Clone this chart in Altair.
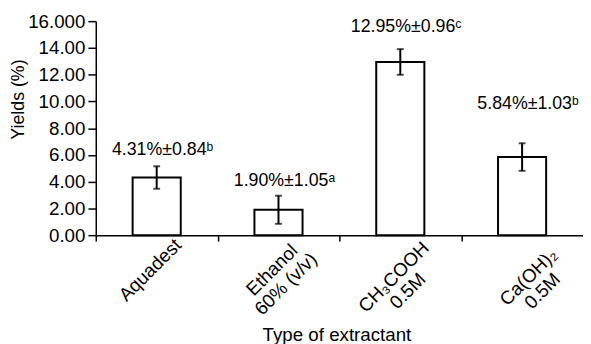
import altair as alt
import pandas as pd

# ---- data ----
categories = ["Aquadest", "Ethanol|60% (v/v)", "CH₃COOH|0.5M", "Ca(OH)₂|0.5M"]
yields = [4.31, 1.90, 12.95, 5.84]
errors = [0.84, 1.05, 0.96, 1.03]
letters = ["ᵇ", "ᵃ", "ᶜ", "ᵇ"]
y_ticks = [0, 2, 4, 6, 8, 10, 12, 14, 16]
y_tick_labels = ["0.00", "2.00", "4.00", "6.00", "8.00", "10.00", "12.00", "14.00", "16.000"]

df = pd.DataFrame({"label": categories, "yield": yields, "err": errors, "letter": letters})
df["lo"] = df["yield"] - df["err"]
df["hi"] = df["yield"] + df["err"]
df["text"] = [f"{v:.2f}%±{e:.2f}{s}" for v, e, s in zip(yields, errors, letters)]

FONT = "Liberation Sans"
W, H = 494, 217
band = W / len(categories)

y_label_expr = ""
for v, lab in zip(y_ticks, y_tick_labels):
    y_label_expr += f"datum.value == {v} ? '{lab}' : "
y_label_expr += "''"

long_labels = "['" + categories[2] + "', '" + categories[3] + "']"

x_enc = alt.X(
    "label:N",
    sort=categories,
    scale=alt.Scale(paddingInner=0, paddingOuter=0),
    title="Type of extractant",
    axis=alt.Axis(
        labelAngle=315,
        labelAlign="center",
        labelBaseline="middle",
        labelExpr="split(datum.label, '|')",
        labelFontSize=19,
        labelLineHeight=20,
        labelPadding={
            "condition": {"test": f"indexof({long_labels}, datum.value) >= 0", "value": 36},
            "value": 29,
        },
        labelOverlap=False,
        labelFlush=False,
        labelBound=False,
        labelLimit=0,
        tickSize=6,
        tickOffset=-band / 2,
        labelOffset={
            "condition": {"test": f"datum.value == '{categories[3]}'", "value": band / 2 + 6},
            "value": band / 2 - 7,
        },
        domainWidth=1.5,
        tickWidth=1.5,
        titleFontSize=19,
        titleX=244,
        titleY=107,
        titleAlign="center",
        titleBaseline="alphabetic",
    ),
)

y_scale = alt.Scale(domain=[0, 16], nice=False, zero=True)
y_axis = alt.Axis(
    values=y_ticks,
    labelExpr=y_label_expr,
    labelOverlap=False,
    labelFlush=False,
    labelFontSize=19,
    tickSize=8,
    labelPadding=3,
    domainWidth=1.5,
    tickWidth=1.5,
    titleAngle=270,
    titleX=-73,
    titleY=79,
    titleAlign="center",
    titleBaseline="alphabetic",
)
Y_TITLE = "Yields (%)"

base = alt.Chart(df).encode(x=x_enc)

bars = base.mark_bar(
    width=alt.RelativeBandSize(0.395), fill="white", stroke="black", strokeWidth=2
).encode(y=alt.Y("yield:Q", scale=y_scale, axis=y_axis, title=Y_TITLE))

rules = base.mark_rule(color="black", strokeWidth=2).encode(
    y=alt.Y("lo:Q", scale=y_scale, axis=y_axis, title=Y_TITLE), y2="hi:Q"
)
cap_lo = base.mark_tick(color="black", thickness=2, size=7, orient="horizontal").encode(
    y=alt.Y("lo:Q", scale=y_scale, axis=y_axis, title=Y_TITLE)
)
cap_hi = base.mark_tick(color="black", thickness=2, size=7, orient="horizontal").encode(
    y=alt.Y("hi:Q", scale=y_scale, axis=y_axis, title=Y_TITLE)
)

# gap (px) between the top of each error bar and its annotation
text_gap = [11, 10, 17, 35]
texts = [
    base.transform_filter(alt.datum.label == c)
    .mark_text(font=FONT, fontSize=18, color="black", baseline="alphabetic", dy=-g, dx=6)
    .encode(y=alt.Y("hi:Q", scale=y_scale, axis=y_axis, title=Y_TITLE), text="text:N")
    for c, g in zip(categories, text_gap)
]

chart = (
    alt.layer(bars, rules, cap_lo, cap_hi, *texts)
    .properties(
        width=W,
        height=H,
        autosize=alt.AutoSizeParams(type="none"),
        padding={"left": 89, "top": 11, "right": 0, "bottom": 108},
        background="white",
    )
    .configure_view(stroke=None)
    .configure_axis(
        grid=False,
        domainColor="black",
        tickColor="black",
        labelColor="black",
        titleColor="black",
        labelFont=FONT,
        titleFont=FONT,
        labelFontSize=18,
        titleFontSize=18,
        titleFontWeight="normal",
    )
)

chart.save("out.html", embed_options={"renderer": "svg", "actions": False})
